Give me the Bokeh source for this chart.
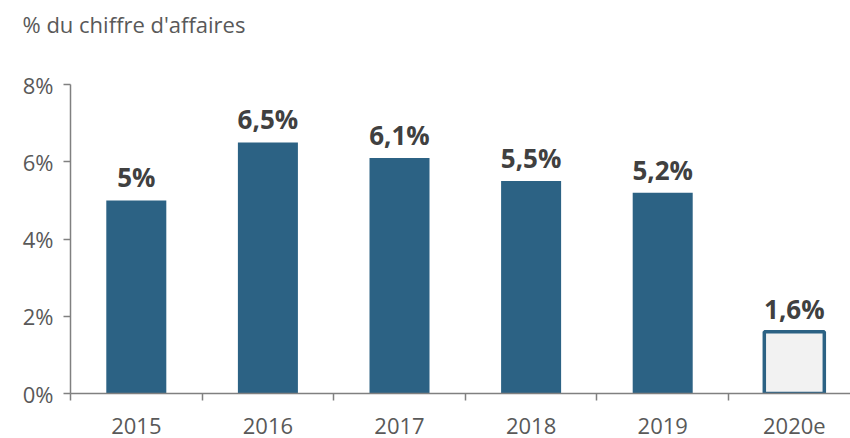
import numpy as np
from bokeh.plotting import figure
from bokeh.models import Range1d, FixedTicker, ColumnDataSource, LinearAxis, Title
from bokeh.core.properties import value
from bokeh.embed import file_html
from bokeh.resources import INLINE

categories = ["2015", "2016", "2017", "2018", "2019", "2020e"]
values = [5.0, 6.5, 6.1, 5.5, 5.2, 1.6]
estimate = [False, False, False, False, False, True]
y_ticks = [0, 2, 4, 6, 8]
title_text = "% du chiffre d'affaires"

FONT = "Open Sans"
BLUE = "#2C6284"
GREY = "#595959"

xs = np.arange(len(categories))
labels = [f"{v:g}".replace(".", ",") + "%" for v in values]

p = figure(width=850, height=438, output_backend="svg", toolbar_location=None,
           x_range=Range1d(-0.5, 5.427), y_range=Range1d(0, 8),
           min_border_left=70, min_border_right=0, min_border_top=84, min_border_bottom=45)
p.outline_line_color = None
p.xgrid.visible = False
p.ygrid.visible = False
p.xaxis.visible = False

p.title.text = title_text
p.title.align = "left"
p.title.offset = -48
p.title.text_font = FONT
p.title.text_font_size = "22px"
p.title.text_font_style = "normal"
p.title.text_color = GREY
p.title.standoff = 10

# spacer between title and frame
spacer = Title(text=" ", text_font_size="10px", standoff=28)
p.add_layout(spacer, "above")

solid = [i for i in range(len(values)) if not estimate[i]]
est = [i for i in range(len(values)) if estimate[i]]
src_solid = ColumnDataSource(dict(x=xs[solid], top=[values[i] for i in solid]))
src_est = ColumnDataSource(dict(x=xs[est], top=[values[i] for i in est]))
p.vbar(x="x", top="top", width=0.456, source=src_solid, fill_color=BLUE, line_color=None)
p.vbar(x="x", top="top", width=0.456, source=src_est, fill_color="#F2F2F2",
       line_color=BLUE, line_width=3.5)

src_lab = ColumnDataSource(dict(x=xs, y=values, t=labels))
p.text(x="x", y="y", text="t", source=src_lab, text_align="center", text_baseline="bottom",
       y_offset=-5, text_font=value(FONT), text_font_style="bold",
       text_font_size="26px", text_color="#404040")

# y axis
ya = p.yaxis[0]
ya.ticker = FixedTicker(ticks=y_ticks)
ya.major_label_overrides = {t: f"{t}%" for t in y_ticks}
ya.major_label_text_font = FONT
ya.major_label_text_font_size = "22px"
ya.major_label_text_color = GREY
ya.axis_line_color = "#808080"
ya.axis_line_width = 1.5
ya.major_tick_line_color = "#808080"
ya.major_tick_line_width = 1.5
ya.major_tick_out = 7
ya.major_tick_in = 0
ya.minor_tick_line_color = None
ya.major_label_standoff = 10

# x axis: tick marks at category boundaries
bounds = [-0.5] + [i + 0.5 for i in range(len(categories) - 1)]
xa_ticks = LinearAxis(ticker=FixedTicker(ticks=bounds),
                      major_label_overrides={b: " " for b in bounds},
                      major_label_text_font_size="6px")
xa_ticks.axis_line_color = "#808080"
xa_ticks.axis_line_width = 1.5
xa_ticks.major_tick_line_color = "#808080"
xa_ticks.major_tick_line_width = 1.5
xa_ticks.major_tick_out = 7
xa_ticks.major_tick_in = 0
xa_ticks.minor_tick_line_color = None
xa_ticks.major_label_standoff = 0
p.add_layout(xa_ticks, "below")

xa_lab = LinearAxis(ticker=FixedTicker(ticks=list(xs)),
                    major_label_overrides={int(i): c for i, c in zip(xs, categories)})
xa_lab.axis_line_color = None
xa_lab.major_tick_line_color = None
xa_lab.minor_tick_line_color = None
xa_lab.major_label_text_font = FONT
xa_lab.major_label_text_font_size = "22px"
xa_lab.major_label_text_color = GREY
xa_lab.major_label_standoff = 2
p.add_layout(xa_lab, "below")

open("out.html", "w").write(file_html(p, INLINE))
